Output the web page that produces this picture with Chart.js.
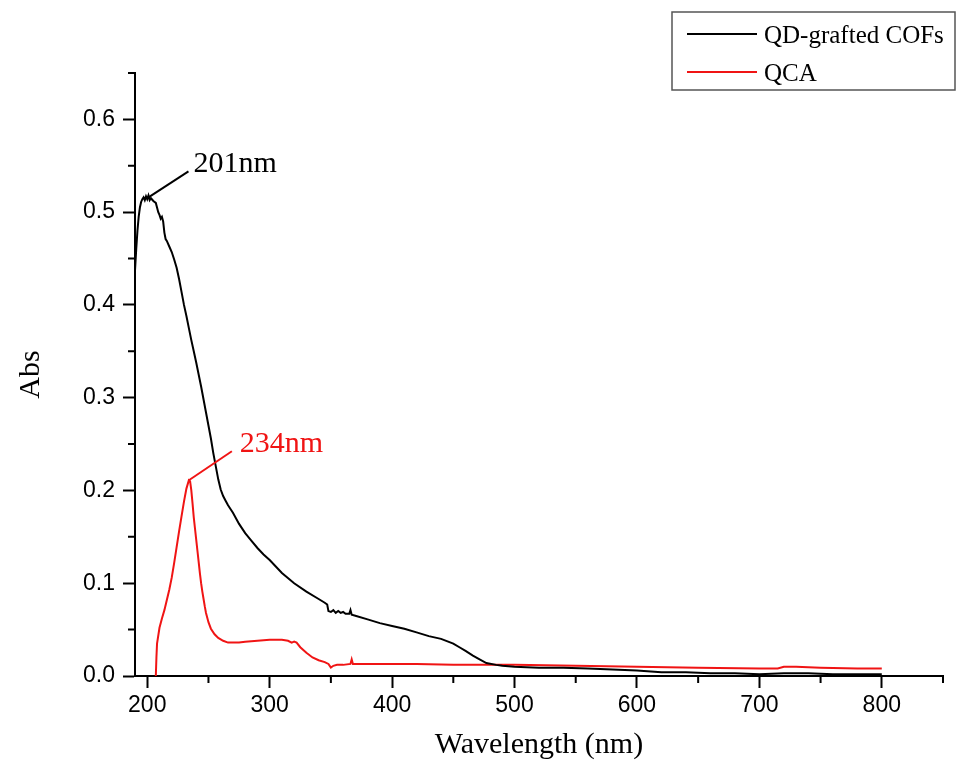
<!DOCTYPE html>
<html>
<head>
<meta charset="utf-8">
<script src="https://cdn.jsdelivr.net/npm/chart.js@4.4.1/dist/chart.umd.min.js"></script>
<style>
  html, body { margin: 0; padding: 0; background: #fff; }
  #myChart { display: block; }
</style>
</head>
<body>
<canvas id="myChart" width="957" height="774"></canvas>
<script>
// QD-grafted COFs absorption (black)
const cofNm = [190, 191, 192, 193, 194, 195, 196, 197, 198, 199, 200, 201, 202, 203, 205, 207, 208, 209, 210, 211, 212, 213, 214, 215, 216, 218, 220, 222, 224, 226, 228, 230, 232, 234, 236, 238, 240, 242, 244, 246, 248, 250, 252, 254, 256, 258, 260, 262, 264, 266, 268, 270, 275, 280, 285, 290, 295, 300, 310, 320, 330, 340, 345, 347, 348, 350, 352, 354, 356, 358, 360, 362, 365, 366, 367, 370, 380, 390, 400, 410, 420, 430, 440, 450, 455, 460, 466, 470, 477, 485, 490, 500, 520, 540, 560, 580, 600, 620, 640, 660, 680, 700, 720, 740, 760, 780, 800];
const cofAbs = [0.437, 0.46, 0.48, 0.495, 0.505, 0.511, 0.514, 0.516, 0.513, 0.517, 0.514, 0.518, 0.513, 0.515, 0.512, 0.510, 0.505, 0.500, 0.497, 0.493, 0.495, 0.490, 0.478, 0.471, 0.469, 0.463, 0.457, 0.449, 0.440, 0.428, 0.414, 0.400, 0.388, 0.375, 0.362, 0.350, 0.338, 0.325, 0.312, 0.298, 0.284, 0.270, 0.256, 0.240, 0.226, 0.212, 0.201, 0.194, 0.189, 0.184, 0.180, 0.176, 0.164, 0.154, 0.146, 0.138, 0.131, 0.125, 0.111, 0.100, 0.091, 0.083, 0.079, 0.077, 0.070, 0.069, 0.071, 0.068, 0.070, 0.068, 0.069, 0.067, 0.067, 0.071, 0.066, 0.065, 0.061, 0.057, 0.054, 0.051, 0.047, 0.043, 0.040, 0.035, 0.031, 0.027, 0.022, 0.019, 0.014, 0.012, 0.011, 0.010, 0.009, 0.009, 0.008, 0.007, 0.006, 0.004, 0.004, 0.003, 0.003, 0.002, 0.003, 0.003, 0.002, 0.002, 0.002];

// QCA absorption (red)
const qcaNm = [207, 207.5, 208, 210, 212, 214, 216, 218, 220, 222, 224, 226, 228, 230, 232, 234, 235, 236, 237, 238, 239, 240, 241, 242, 243, 244, 245, 246, 247, 248, 250, 252, 255, 258, 262, 266, 270, 275, 280, 290, 300, 310, 315, 318, 320, 322, 325, 330, 335, 340, 345, 348, 350, 352, 355, 360, 366, 367, 368, 380, 400, 420, 450, 480, 500, 550, 600, 650, 700, 715, 720, 730, 750, 780, 800];
const qcaAbs = [0.0, 0.02, 0.035, 0.052, 0.062, 0.071, 0.082, 0.093, 0.106, 0.122, 0.139, 0.156, 0.172, 0.188, 0.202, 0.211, 0.210, 0.200, 0.186, 0.171, 0.159, 0.147, 0.135, 0.123, 0.111, 0.100, 0.091, 0.083, 0.075, 0.068, 0.058, 0.051, 0.045, 0.041, 0.038, 0.036, 0.036, 0.036, 0.037, 0.038, 0.039, 0.039, 0.038, 0.036, 0.037, 0.036, 0.031, 0.025, 0.020, 0.017, 0.015, 0.013, 0.009, 0.011, 0.012, 0.012, 0.013, 0.018, 0.013, 0.013, 0.013, 0.013, 0.012, 0.012, 0.012, 0.011, 0.010, 0.009, 0.008, 0.008, 0.010, 0.010, 0.009, 0.008, 0.008];

const seriesNames = ["QD-grafted COFs", "QCA"];
const seriesColors = ["#000000", "#f01414"];

const xTicks = [200, 300, 400, 500, 600, 700, 800];
const xMinor = [250, 350, 450, 550, 650, 750, 850];
const yTicks = [0.0, 0.1, 0.2, 0.3, 0.4, 0.5, 0.6];
const yMinor = [0.05, 0.15, 0.25, 0.35, 0.45, 0.55, 0.65];

// peak labels: wavelength, absorbance, text
const peakNm = [201, 234];
const peakAbs = [0.516, 0.211];
const peakText = ["201nm", "234nm"];

const serif = "'Liberation Serif', 'Times New Roman', serif";
const sans = "'Liberation Sans', Arial, sans-serif";

function toPoints(xs, ys) {
  return xs.map((x, i) => ({ x: x, y: ys[i] }));
}

const minorTicks = {
  id: "minorTicks",
  afterDraw(chart) {
    const ctx = chart.ctx;
    const xs = chart.scales.x, ys = chart.scales.y;
    const area = chart.chartArea;
    ctx.save();
    ctx.strokeStyle = "#000";
    ctx.lineWidth = 2;
    ctx.beginPath();
    xMinor.forEach(v => {
      const px = xs.getPixelForValue(v);
      ctx.moveTo(px, area.bottom);
      ctx.lineTo(px, area.bottom + 7);
    });
    yMinor.forEach(v => {
      const py = ys.getPixelForValue(v);
      ctx.moveTo(area.left, py);
      ctx.lineTo(area.left - 7, py);
    });
    ctx.stroke();
    ctx.restore();
  },
};

const peakLabels = {
  id: "peakLabels",
  afterDatasetsDraw(chart, args, opts) {
    const ctx = chart.ctx;
    const xs = chart.scales.x, ys = chart.scales.y;
    ctx.save();
    ctx.font = "30px " + serif;
    ctx.textBaseline = "alphabetic";
    ctx.lineWidth = 2;
    peakNm.forEach((nm, i) => {
      const px = xs.getPixelForValue(nm);
      const py = ys.getPixelForValue(peakAbs[i]);
      const off = opts.offsets[i];
      const color = seriesColors[i];
      ctx.strokeStyle = color;
      ctx.fillStyle = color;
      ctx.beginPath();
      ctx.moveTo(px, py);
      ctx.lineTo(px + off.dx, py + off.dy);
      ctx.stroke();
      ctx.fillText(peakText[i], px + off.dx + off.gap, py + off.dy + 1);
    });
    ctx.restore();
  },
};

const boxLegend = {
  id: "boxLegend",
  afterDraw(chart) {
    const ctx = chart.ctx;
    ctx.save();
    ctx.strokeStyle = "#555";
    ctx.lineWidth = 1.5;
    ctx.strokeRect(672, 12, 283, 78);
    ctx.font = "25px " + serif;
    ctx.textBaseline = "middle";
    chart.data.datasets.forEach((ds, i) => {
      const y = 34 + i * 38;
      ctx.strokeStyle = ds.borderColor;
      ctx.lineWidth = 2;
      ctx.beginPath();
      ctx.moveTo(687, y);
      ctx.lineTo(757, y);
      ctx.stroke();
      ctx.fillStyle = "#000";
      ctx.fillText(ds.label, 764, y + 2);
    });
    ctx.restore();
  },
};

const ctx = document.getElementById("myChart");
new Chart(ctx, {
  type: "scatter",
  data: {
    datasets: [
      {
        label: seriesNames[0],
        data: toPoints(cofNm, cofAbs),
        borderColor: seriesColors[0],
        showLine: true,
        borderWidth: 2,
        pointRadius: 0,
        tension: 0,
      },
      {
        label: seriesNames[1],
        data: toPoints(qcaNm, qcaAbs),
        borderColor: seriesColors[1],
        showLine: true,
        borderWidth: 2,
        pointRadius: 0,
        tension: 0,
      },
    ],
  },
  options: {
    responsive: false,
    animation: false,
    events: [],
    layout: { padding: { top: 73, right: 14, left: 0, bottom: 0 } },
    plugins: {
      legend: { display: false },
      tooltip: { enabled: false },
      peakLabels: {
        offsets: [
          { dx: 40, dy: -26, gap: 5 },
          { dx: 43, dy: -29, gap: 8 },
        ],
      },
    },
    scales: {
      x: {
        type: "linear",
        min: 190,
        max: 850,
        afterBuildTicks(scale) {
          scale.ticks = xTicks.map(v => ({ value: v }));
        },
        afterFit(scale) {
          scale.height = 98;
        },
        border: { display: true, color: "#000", width: 2 },
        grid: { drawOnChartArea: false, drawTicks: true, tickLength: 12, tickColor: "#000", tickWidth: 2 },
        ticks: { color: "#000", font: { family: sans, size: 23 }, padding: 4, maxRotation: 0 },
        title: {
          display: true,
          text: "Wavelength (nm)",
          color: "#000",
          font: { family: serif, size: 30 },
          padding: { top: 0, bottom: 11 },
        },
      },
      y: {
        type: "linear",
        min: 0,
        max: 0.65,
        afterBuildTicks(scale) {
          scale.ticks = yTicks.map(v => ({ value: v }));
        },
        afterFit(scale) {
          scale.width = 135;
        },
        border: { display: true, color: "#000", width: 2 },
        grid: { drawOnChartArea: false, drawTicks: true, tickLength: 12, tickColor: "#000", tickWidth: 2 },
        ticks: {
          color: "#000",
          font: { family: sans, size: 23 },
          padding: 8,
          callback: v => v.toFixed(1),
        },
        title: {
          display: true,
          text: "Abs",
          color: "#000",
          font: { family: serif, size: 30 },
          padding: { top: 13, bottom: 0 },
        },
      },
    },
  },
  plugins: [minorTicks, peakLabels, boxLegend],
});
</script>
</body>
</html>
